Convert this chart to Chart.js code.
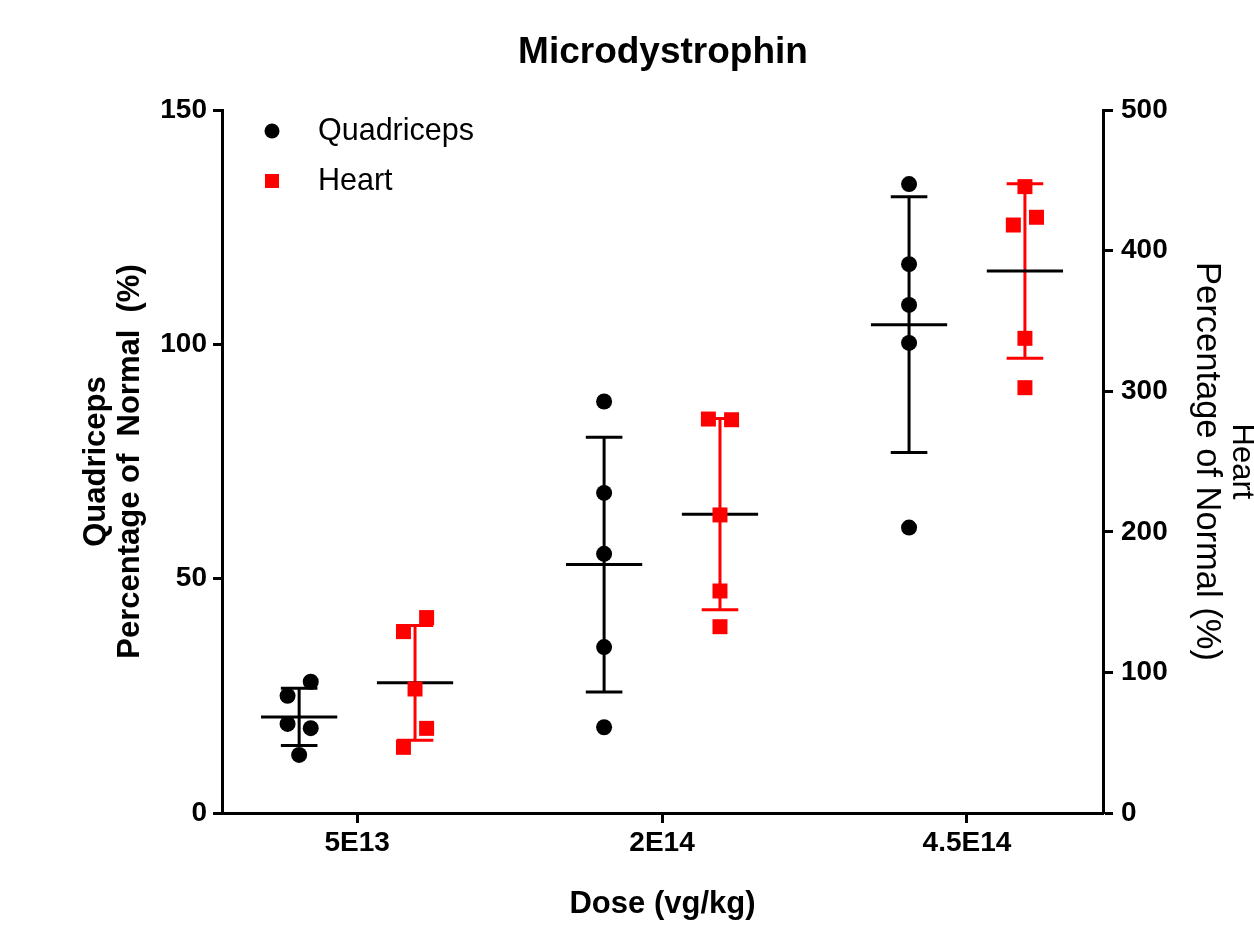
<!DOCTYPE html>
<html>
<head>
<meta charset="utf-8">
<script src="https://cdn.jsdelivr.net/npm/chart.js@4.4.0/dist/chart.umd.min.js"></script>
<style>
  html, body { margin: 0; padding: 0; background: #ffffff; }
  #wrap { width: 1254px; height: 928px; }
</style>
</head>
<body>
<div id="wrap"><canvas id="c" width="1254" height="928"></canvas></div>
<script>
// ---------------- data ----------------
const categories = ['5E13', '2E14', '4.5E14'];
const yTicksLeft = [0, 50, 100, 150];
const yTicksRight = [0, 100, 200, 300, 400, 500];

// Quadriceps (% of normal), five animals per dose
const quad5E13  = [28.0, 25.0, 19.0, 18.1, 12.4];
const quad2E14  = [87.8, 68.3, 55.3, 35.4, 18.3];
const quad45E14 = [134.2, 117.1, 108.4, 100.3, 60.9];
const quadMean  = [20.5, 53.0, 104.2];
const quadSD    = [6.1, 27.2, 27.3];
const quadJitter5E13  = [1, -1, -1, 1, 0];
const quadJitter2E14  = [0, 0, 0, 0, 0];
const quadJitter45E14 = [0, 0, 0, 0, 0];

// Heart (% of normal), five animals per dose
const heart5E13  = [139, 129, 88.2, 60.2, 46.7];
const heart2E14  = [280.2, 279.7, 212, 157.9, 132.5];
const heart45E14 = [445.5, 423.7, 418.2, 337.6, 302.5];
const heartMean  = [92.6, 212.5, 385.5];
const heartSD    = [40.8, 68.0, 62.0];
const heartJitter5E13  = [1, -1, 0, 1, -1];
const heartJitter2E14  = [-1, 1, 0, 0, 0];
const heartJitter45E14 = [0, 1, -1, 0, 0];

// ---------------- layout constants ----------------
const GROUP_OFFSET = 0.19;
const JITTER = 0.038;
const MEAN_HALF = 0.125;
const CAP_HALF = 0.06;
const FONT = "'Liberation Sans', Arial, sans-serif";
const RED = '#ff0000';

const quadGroups = [quad5E13, quad2E14, quad45E14];
const quadJit = [quadJitter5E13, quadJitter2E14, quadJitter45E14];
const heartGroups = [heart5E13, heart2E14, heart45E14];
const heartJit = [heartJitter5E13, heartJitter2E14, heartJitter45E14];

function buildPoints(groups, jit, side) {
  const pts = [];
  groups.forEach((vals, g) => {
    vals.forEach((v, i) => {
      pts.push({ x: g + 1 + side * GROUP_OFFSET + jit[g][i] * JITTER, y: v });
    });
  });
  return pts;
}

function txt(ctx, s, x, y, font, align, baseline, rot, color) {
  ctx.save();
  ctx.translate(x, y);
  if (rot) ctx.rotate(rot);
  ctx.font = font;
  ctx.fillStyle = color || '#000';
  ctx.textAlign = align;
  ctx.textBaseline = baseline;
  ctx.fillText(s, 0, 0);
  ctx.restore();
}

const errorBars = {
  id: 'errorBars',
  beforeDatasetsDraw(chart) {
    const ctx = chart.ctx;
    const xs = chart.scales.x;
    const specs = [
      { mean: quadMean, sd: quadSD, scale: chart.scales.y, side: -1, color: '#000' },
      { mean: heartMean, sd: heartSD, scale: chart.scales.y2, side: 1, color: RED }
    ];
    ctx.save();
    ctx.lineWidth = 3;
    ctx.lineCap = 'butt';
    specs.forEach(sp => {
      sp.mean.forEach((m, g) => {
        const cx = g + 1 + sp.side * GROUP_OFFSET;
        const px = xs.getPixelForValue(cx);
        const pTop = sp.scale.getPixelForValue(m + sp.sd[g]);
        const pBot = sp.scale.getPixelForValue(m - sp.sd[g]);
        const pm = sp.scale.getPixelForValue(m);
        const cl = xs.getPixelForValue(cx - CAP_HALF);
        const cr = xs.getPixelForValue(cx + CAP_HALF);
        ctx.strokeStyle = sp.color;
        ctx.beginPath();
        ctx.moveTo(px, pTop); ctx.lineTo(px, pBot);
        ctx.moveTo(cl, pTop); ctx.lineTo(cr, pTop);
        ctx.moveTo(cl, pBot); ctx.lineTo(cr, pBot);
        ctx.stroke();
        ctx.strokeStyle = '#000';
        ctx.beginPath();
        ctx.moveTo(xs.getPixelForValue(cx - MEAN_HALF), pm);
        ctx.lineTo(xs.getPixelForValue(cx + MEAN_HALF), pm);
        ctx.stroke();
      });
    });
    ctx.restore();
  }
};

const annotations = {
  id: 'annotations',
  afterDraw(chart) {
    const ctx = chart.ctx;
    const ca = chart.chartArea;
    const midX = (ca.left + ca.right) / 2;
    const midY = (ca.top + ca.bottom) / 2;
    // title
    txt(ctx, 'Microdystrophin', 663, 63, 'bold 37px ' + FONT, 'center', 'alphabetic');
    // legend
    ctx.save();
    ctx.fillStyle = '#000';
    ctx.beginPath(); ctx.arc(272, 131, 7.5, 0, Math.PI * 2); ctx.fill();
    ctx.fillStyle = RED;
    ctx.fillRect(265, 174, 14, 14);
    ctx.restore();
    txt(ctx, 'Quadriceps', 318, 132, '30.5px ' + FONT, 'left', 'middle');
    txt(ctx, 'Heart', 318, 182, '30.5px ' + FONT, 'left', 'middle');
    // x title
    txt(ctx, 'Dose (vg/kg)', midX, 904, 'bold 31px ' + FONT, 'center', 'middle');
    // left title
    txt(ctx, 'Quadriceps', 96, midY, 'bold 31px ' + FONT, 'center', 'middle', -Math.PI / 2);
    txt(ctx, 'Percentage of  Normal  (%)', 130, midY, 'bold 31px ' + FONT, 'center', 'middle', -Math.PI / 2);
    // right title
    txt(ctx, 'Heart', 1242, midY, '31px ' + FONT, 'center', 'middle', Math.PI / 2);
    txt(ctx, 'Percentage of Normal (%)', 1207, midY, '34.5px ' + FONT, 'center', 'middle', Math.PI / 2);
  }
};

const tickFont = { family: FONT, size: 28, weight: 'bold' };

new Chart(document.getElementById('c'), {
  type: 'scatter',
  data: {
    datasets: [
      {
        label: 'Quadriceps',
        data: buildPoints(quadGroups, quadJit, -1),
        yAxisID: 'y',
        pointStyle: 'circle',
        pointRadius: 8,
        pointHoverRadius: 8,
        backgroundColor: '#000',
        borderWidth: 0,
        borderColor: '#000'
      },
      {
        label: 'Heart',
        data: buildPoints(heartGroups, heartJit, 1),
        yAxisID: 'y2',
        pointStyle: 'rect',
        pointRadius: 10.6,
        pointHoverRadius: 10.6,
        backgroundColor: RED,
        borderWidth: 0,
        borderColor: RED
      }
    ]
  },
  options: {
    responsive: false,
    animation: false,
    devicePixelRatio: 1,
    layout: { padding: { top: 110, left: 0, right: 0, bottom: 0 } },
    plugins: {
      legend: { display: false },
      title: { display: false },
      tooltip: { enabled: false }
    },
    scales: {
      x: {
        type: 'linear',
        position: 'bottom',
        min: 0.557,
        max: 3.446,
        afterBuildTicks: s => { s.ticks = categories.map((c, i) => ({ value: i + 1 })); },
        afterFit: s => { s.height = 115; },
        ticks: {
          callback: (v, i) => categories[i],
          font: tickFont,
          color: '#000',
          padding: 3,
          maxRotation: 0,
          autoSkip: false
        },
        grid: { drawOnChartArea: false, drawTicks: true, tickLength: 10, tickWidth: 3, tickColor: '#000' },
        border: { display: true, color: '#000', width: 3 }
      },
      y: {
        position: 'left',
        min: 0,
        max: 150,
        afterBuildTicks: s => { s.ticks = yTicksLeft.map(v => ({ value: v })); },
        afterFit: s => { s.width = 222; },
        ticks: { font: tickFont, color: '#000', padding: 6 },
        grid: { drawOnChartArea: false, drawTicks: true, tickLength: 9, tickWidth: 3, tickColor: '#000' },
        border: { display: true, color: '#000', width: 3 }
      },
      y2: {
        position: 'right',
        min: 0,
        max: 500,
        afterBuildTicks: s => { s.ticks = yTicksRight.map(v => ({ value: v })); },
        afterFit: s => { s.width = 151; },
        ticks: { font: tickFont, color: '#000', padding: 8 },
        grid: { drawOnChartArea: false, drawTicks: true, tickLength: 10, tickWidth: 3, tickColor: '#000' },
        border: { display: true, color: '#000', width: 3 }
      }
    }
  },
  plugins: [errorBars, annotations]
});
</script>
</body>
</html>
